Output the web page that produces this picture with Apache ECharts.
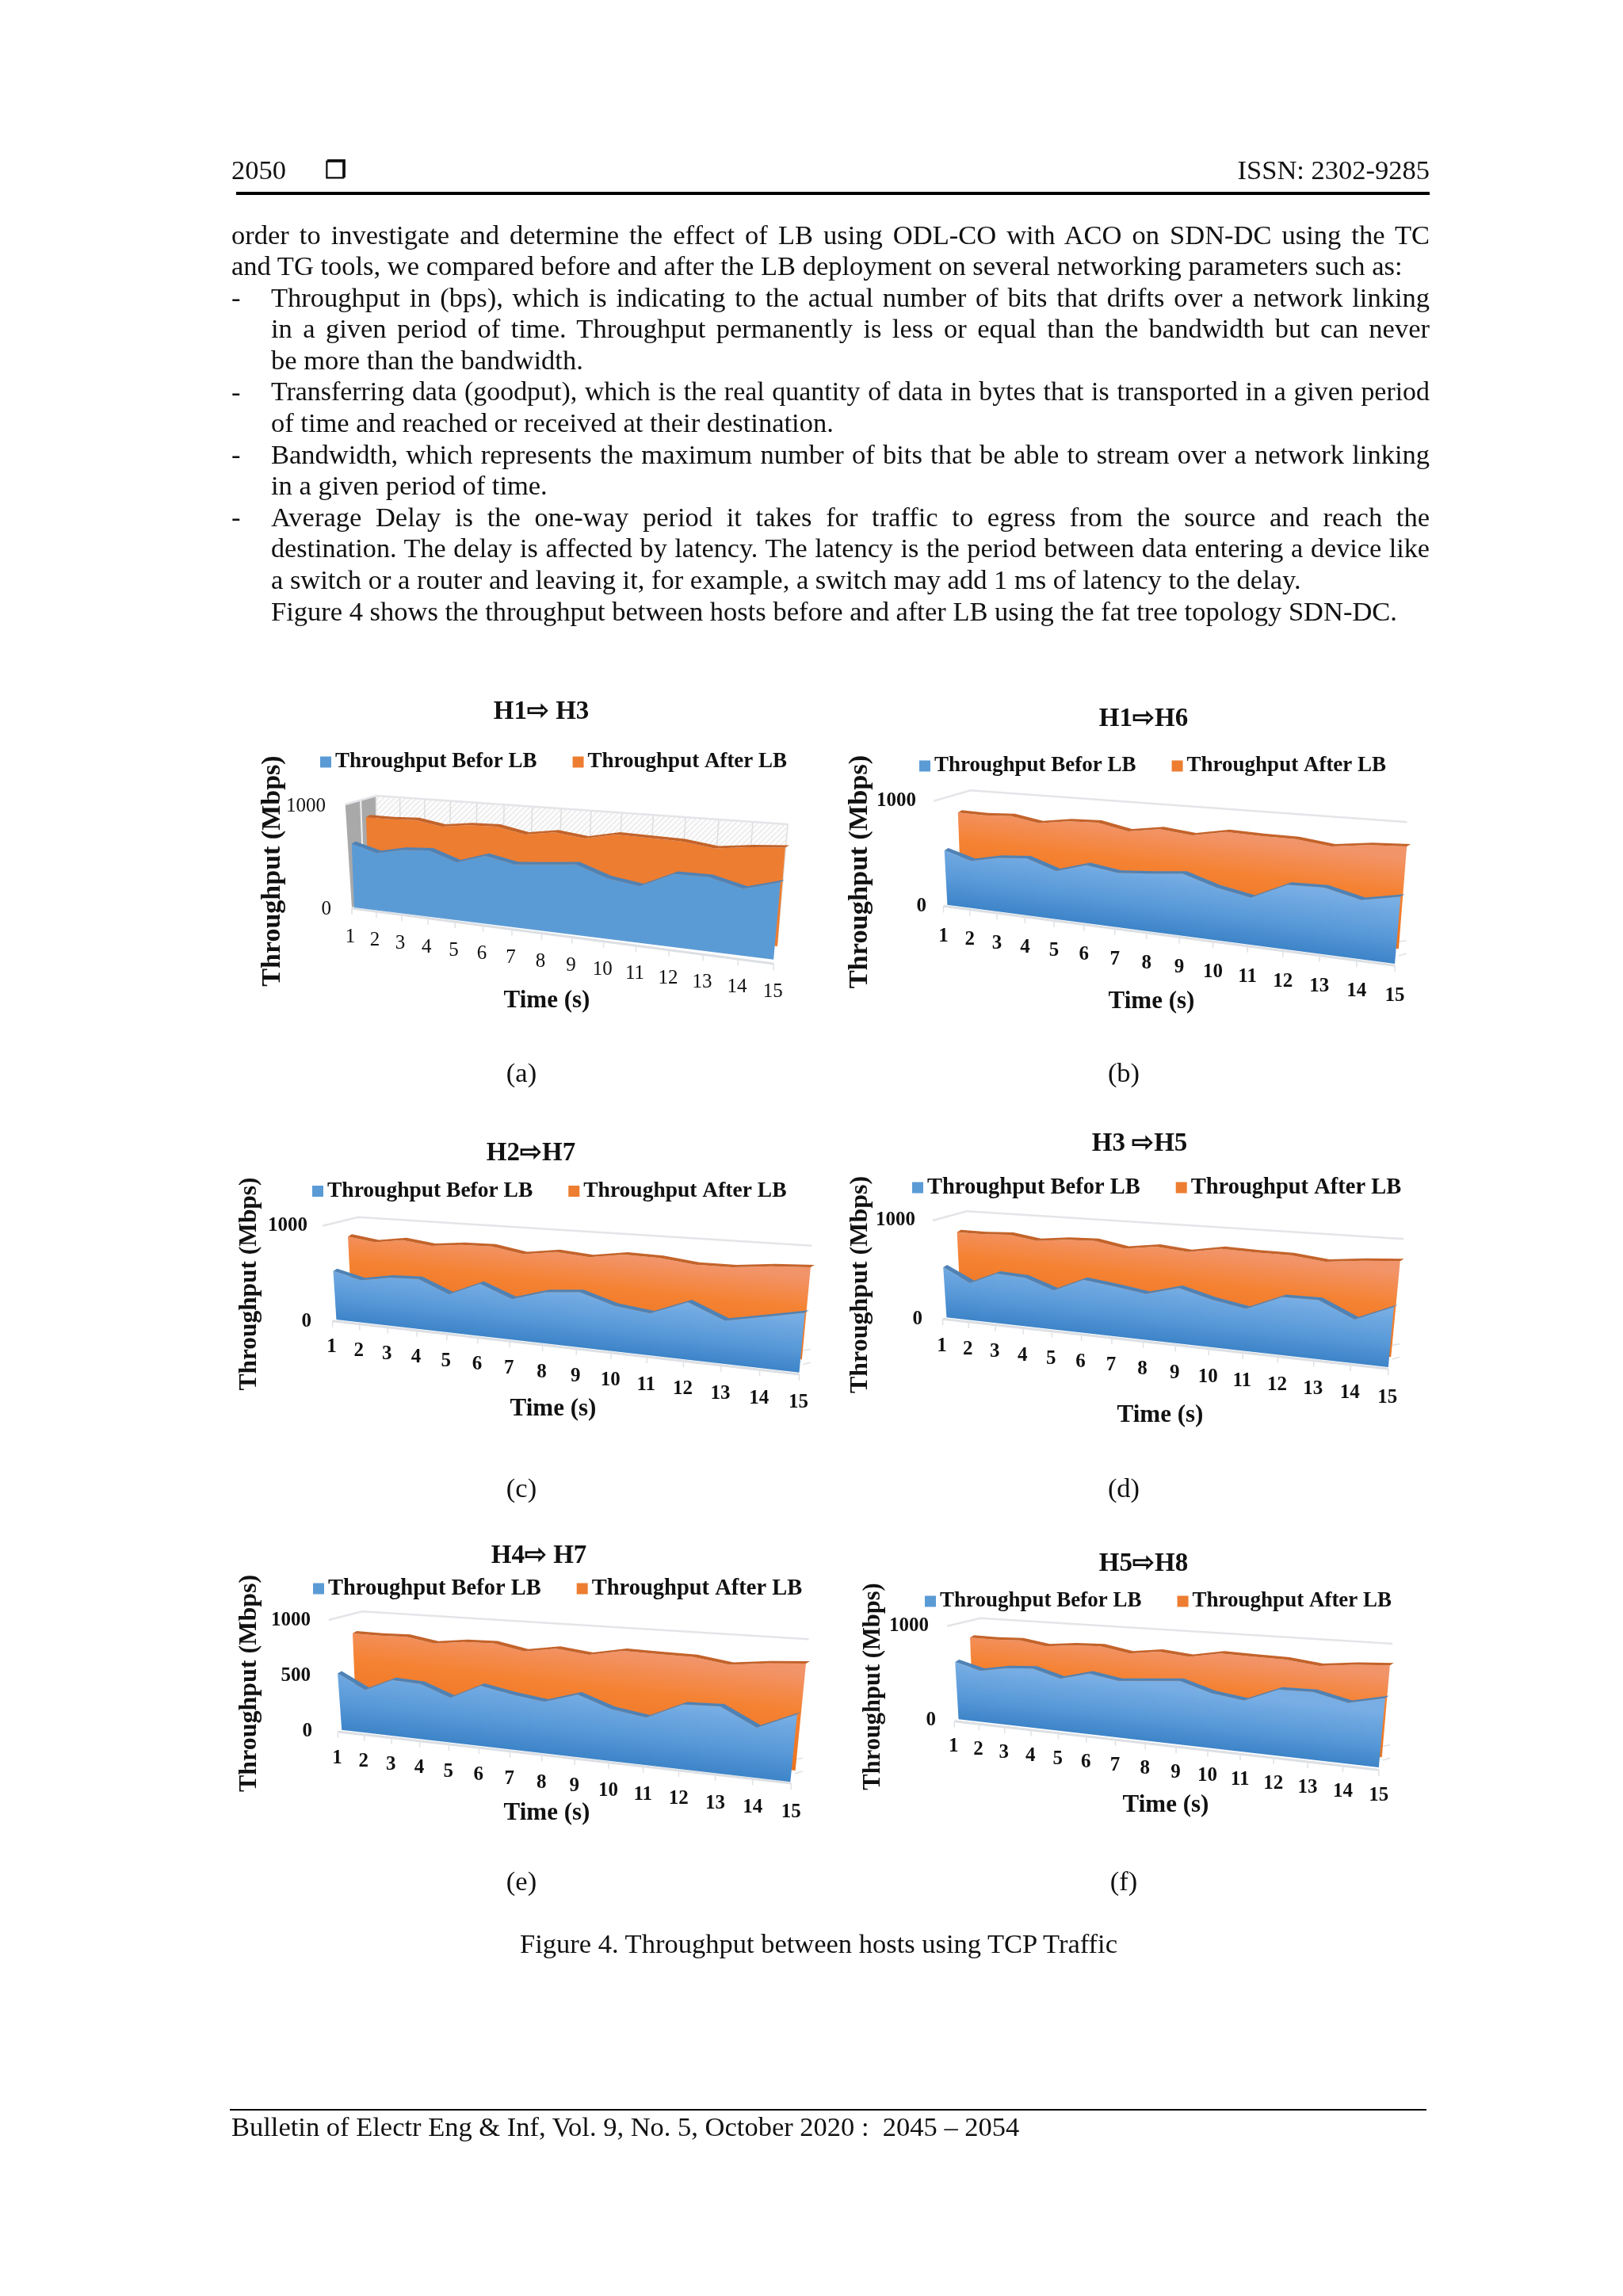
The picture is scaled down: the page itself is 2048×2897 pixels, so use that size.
<!DOCTYPE html>
<html><head><meta charset="utf-8">
<script src="https://cdn.jsdelivr.net/npm/echarts@6/dist/echarts.min.js"></script>
<style>
html,body{margin:0;padding:0;background:#fff}
#page{position:relative;width:2048px;height:2897px;overflow:hidden;font-family:"Liberation Serif",serif;color:#111}
#chart{position:absolute;left:0;top:0;width:2048px;height:2897px}
.l{position:absolute;font-size:34.5px;line-height:40px;height:40px;text-align:justify;text-align-last:justify}
.n{position:absolute;font-size:34.5px;line-height:40px;height:40px;white-space:nowrap}
.r{position:absolute;background:#000}
</style></head><body><div id="page"><div id="chart"></div></div>
<script>
const categories=['1','2','3','4','5','6','7','8','9','10','11','12','13','14','15'];
const seriesBefore='Throughput Befor LB', seriesAfter='Throughput After LB';
const yTicks1000=[0,1000], yTicks500=[0,500,1000];

const beforeA=[641,574,627,645,558,643,590,613,640,544,503,635,635,564,645];
const afterA =[821,822,834,792,825,833,782,824,791,849,842,837,799,833,853];
const beforeB=[547,473,531,553,465,549,508,531,561,473,419,559,568,497,557];
const afterB =[841,837,852,807,848,859,804,848,819,875,866,864,827,866,882];
const beforeC=[544,472,528,541,414,549,426,525,555,456,416,552,414,483,552];
const afterC =[828,791,836,799,833,841,788,835,808,860,853,816,818,854,873];
const beforeD=[545,409,528,513,413,543,505,461,544,463,407,543,544,403,541];
const afterD =[816,817,834,795,830,843,792,836,810,867,858,860,826,863,886];
const beforeE=[533,406,517,505,409,535,485,450,533,440,399,529,539,402,530];
const afterE =[804,804,813,775,810,819,772,817,789,845,842,842,803,840,862];
const beforeF=[637,567,618,636,558,635,587,612,638,545,505,634,639,566,638];
const afterF =[823,823,836,794,827,838,789,830,804,860,853,850,815,851,871];

/* Layout of each panel: o = crop origin; geometry is written in crop units (x/2.0632, y/3). */
const panels=[
 {o:[300,860],title:'H1\u21E8 H3',tc:[683,898],leg:[404,962],lf:27,time:[690,1263],yn:[344,1099],ynf:34,grid:[411,1017,130],nudge:7,ticks:yTicks1000,bold:false,flat:true,before:beforeA,after:afterA,
  bp:[[303,855],[1395,1052],[293,465],[1423,584]],ap:[[342,825],[1405,1002],[332,435],[1429,554]],
  top:[[280,465],[360,432],[1432,540]],floor:[[297,858],[1395,1068]],lab:[110,105],labx:[-4,-2]},
 {o:[1050,860],title:'H1\u21E8H6',tc:[1443,907],leg:[1160,967],lf:27,time:[1453,1264],yn:[1085,1100],ynf:34.4,grid:[1156,1011,132.7],nudge:13,ticks:yTicks1000,bold:true,before:beforeB,after:afterB,
  bp:[[300,845],[1465,1068],[286,452],[1492,596]],ap:[[336,815],[1475,1012],[326,425],[1499,562]],
  top:[[265,452],[360,412],[1497,532]],floor:[[290,850],[1465,1075]],lab:[115,115],labx:[0,0]},
 {o:[280,1420],title:'H2\u21E8H7',tc:[670,1455],leg:[394,1503],lf:27.5,time:[698,1778],yn:[315,1620],ynf:31.4,grid:[388,1547,121],nudge:5,ticks:yTicks1000,bold:true,before:beforeC,after:afterC,
  bp:[[298,735],[1503,935],[283,380],[1530,509]],ap:[[338,706],[1510,886],[326,351],[1536,476]],
  top:[[262,380],[355,347],[1535,455]],floor:[[288,740],[1503,942]],lab:[100,108],labx:[-2,-2]},
 {o:[1050,1420],title:'H3 \u21E8H5',tc:[1438,1443],leg:[1151,1498],lf:28.5,time:[1464,1786],yn:[1086,1621],ynf:32,grid:[1155,1540,125],nudge:9,ticks:yTicks1000,bold:true,before:beforeD,after:afterD,
  bp:[[298,727],[1448,915],[282,362],[1475,477]],ap:[[335,693],[1455,877],[323,328],[1482,457]],
  top:[[262,360],[350,325],[1488,430]],floor:[[288,733],[1448,922]],lab:[102,108],labx:[-2,-2]},
 {o:[280,1940],title:'H4\u21E8 H7',tc:[680,1963],leg:[395,2004],lf:28.5,time:[690,2288],yn:[315,2124],ynf:32,grid:[392,2045,140],nudge:2,ticks:yTicks500,bold:true,before:beforeE,after:afterE,
  bp:[[312,728],[1480,925],[292,310],[1513,425]],ap:[[350,690],[1493,882],[338,272],[1525,402]],
  top:[[278,312],[365,280],[1528,385]],floor:[[302,735],[1482,930]],lab:[100,110],labx:[-2,0]},
 {o:[1070,1950],title:'H5\u21E8H8',tc:[1443,1973],leg:[1167,2021],lf:27,time:[1471,2278],yn:[1102,2128],ynf:30.5,grid:[1172,2052,119],nudge:9,ticks:yTicks1000,bold:true,before:beforeF,after:afterF,
  bp:[[288,658],[1382,840],[274,303],[1408,414]],ap:[[326,632],[1390,802],[316,277],[1414,392]],
  top:[[258,305],[345,275],[1418,372]],floor:[[277,665],[1382,850]],lab:[97,98],labx:[-2,0]}
];

const FONT='"Liberation Serif", serif';
const Z=(p,c)=>[p.o[0]+c[0]/2.0632,p.o[1]+c[1]/3];
const warp=t=>0.8*t+0.2*t*t;
const mix=(a,b,f)=>[a[0]+(b[0]-a[0])*f,a[1]+(b[1]-a[1])*f];
function proj(p,plane,cs,pt){
  const t=(pt[0]-cs.x)/cs.width, f=(cs.y+cs.height-pt[1])/cs.height, w=warp(t);
  const low=mix(Z(p,plane[0]),Z(p,plane[1]),w), high=mix(Z(p,plane[2]),Z(p,plane[3]),w);
  return mix(low,high,f);
}
const hatch=document.createElement('canvas');hatch.width=hatch.height=7;
(function(){const g=hatch.getContext('2d');g.fillStyle='#fbfbfb';g.fillRect(0,0,7,7);g.strokeStyle='#dcdcdc';g.lineWidth=1;
 g.beginPath();g.moveTo(-1,8);g.lineTo(8,-1);g.moveTo(-1,1);g.lineTo(1,-1);g.moveTo(6,8);g.lineTo(8,6);g.stroke();})();

function areaRender(p,plane,values,colors){
  return function(params,api){
    if(params.dataIndex!==0) return;
    const cs=params.coordSys;
    const read=values.map((v,i)=>proj(p,plane,cs,api.coord([i,v])));
    const back=read.map(q=>[q[0]+5,q[1]]);
    const front=read.map(q=>[q[0],q[1]+3]);
    const lb=proj(p,plane,cs,api.coord([0,0])), rb=proj(p,plane,cs,api.coord([values.length-1,0]));
    let fill=colors.flat;
    if(!p.flat){
      /* shade runs at right angles to the slanted floor */
      const s=(rb[1]-lb[1])/(rb[0]-lb[0]), M=mix(lb,rb,.5), H=Math.abs(lb[1]-Z(p,plane[2])[1])*colors.reach;
      const k=H/(1+s*s);
      fill={type:'linear',global:true,x:M[0]+s*k,y:M[1]-k,x2:M[0],y2:M[1],colorStops:colors.stops};
    }
    return {type:'group',children:[
      {type:'polygon',shape:{points:[lb].concat(front,[rb])},style:{fill:fill}},
      {type:'polygon',shape:{points:front.concat(back.slice().reverse())},style:{fill:colors.strip}}
    ]};
  };
}
const blueColors={flat:'#5b9bd5',strip:'#4f82b5',reach:.6,stops:[{offset:0,color:'#78aee4'},{offset:.55,color:'#5a9ad9'},{offset:1,color:'#3d84c8'}]};
const orangeColors={flat:'#ed7d31',strip:'#c4632a',reach:.9,stops:[{offset:0,color:'#f2946a'},{offset:.4,color:'#f58232'},{offset:1,color:'#ea7420'}]};

function frameRender(p){
  const wl=Z(p,p.floor[0]), wr=Z(p,p.floor[1]);
  return function(params,api){
    const cs=params.coordSys, i=params.dataIndex;
    const pt=api.coord([i,0]);
    const w=warp((pt[0]-cs.x)/cs.width);
    const f=mix(wl,wr,w);
    const off=mix([p.labx[0],p.lab[0]],[p.labx[1],p.lab[1]],w);
    const kids=[
      {type:'line',shape:{x1:f[0],y1:f[1],x2:f[0],y2:f[1]+8},style:{stroke:'#dfe1e4',lineWidth:1.5}},
      {type:'text',x:f[0]+off[0]/2.0632,y:f[1]+off[1]/3,style:{text:categories[i],fill:'#111',fontFamily:FONT,fontSize:25,fontWeight:p.bold?'bold':'normal',align:'center',verticalAlign:'middle'}}
    ];
    if(i===0){
      const T=p.top.map(c=>Z(p,c));
      const head=[];
      if(p.flat){
        const base=[Z(p,[297,855]),Z(p,[362,820]),Z(p,[1405,990])];
        head.push({type:'polygon',shape:{points:[T[0],T[1],base[1],base[0]]},style:{fill:'#a9a9a9'}});
        head.push({type:'polygon',shape:{points:[T[1],T[2],Z(p,[1424,625]),base[2],base[1]]},style:{fill:{image:hatch,repeat:'repeat'}}});
        const m1=mix(T[0],T[1],.5), m2=mix(base[0],base[1],.5);
        head.push({type:'line',shape:{x1:m1[0],y1:m1[1],x2:m2[0],y2:m2[1]},style:{stroke:'#f2f2f2',lineWidth:2}});
        categories.forEach((c,k)=>{
          const wk=warp(k/14), a=mix(T[1],T[2],wk), b=mix(base[1],base[2],wk);
          head.push({type:'line',shape:{x1:a[0],y1:a[1],x2:b[0],y2:b[1]},style:{stroke:'#dedede',lineWidth:1.5}});
        });
      } else {
        [[[10,-90],[30,-95]],[[10,-37],[30,-45]]].forEach(d=>{
          head.push({type:'line',shape:{x1:wr[0]+d[0][0]/2.0632,y1:wr[1]+d[0][1]/3,x2:wr[0]+d[1][0]/2.0632,y2:wr[1]+d[1][1]/3},style:{stroke:'#dfe1e4',lineWidth:1.5}});
        });
      }
      head.push({type:'polyline',shape:{points:T},style:{stroke:'#e3e5e8',fill:null,lineWidth:2.5}});
      head.push({type:'line',shape:{x1:wl[0],y1:wl[1],x2:wr[0],y2:wr[1]},style:{stroke:'#dcdfe3',lineWidth:3}});
      kids.unshift.apply(kids,head);
    }
    return {type:'group',children:kids};
  };
}

const grids=[],xAxes=[],yAxes=[],titles=[],legends=[],series=[],graphics=[];
panels.forEach((p,k)=>{
  grids.push({left:p.grid[0]+p.nudge,top:p.grid[1],width:400,height:p.grid[2]});
  xAxes.push({type:'category',gridIndex:k,data:categories,boundaryGap:false,show:false});
  const labelFont={fontFamily:FONT,fontSize:25,fontWeight:p.bold?'bold':'normal',color:'#111'};
  yAxes.push({type:'value',gridIndex:k,min:0,max:1000,interval:p.ticks[1],axisLine:{show:false},axisTick:{show:false},splitLine:{show:false},
    axisLabel:Object.assign({margin:0,formatter:v=>v===0?String(v):'{p|'+v+'}',rich:{p:Object.assign({padding:[0,p.nudge,0,0]},labelFont)}},labelFont)});
  titles.push({text:p.title,left:p.tc[0],top:p.tc[1]-16,textAlign:'center',padding:0,textStyle:{fontFamily:FONT,fontSize:33,fontWeight:'bold',color:'#111'}});
  legends.push({data:[seriesBefore,seriesAfter],left:p.leg[0],top:p.leg[1]-14,padding:0,itemWidth:14,itemHeight:14,itemGap:45,icon:'rect',selectedMode:false,
    textStyle:{fontFamily:FONT,fontSize:p.lf,fontWeight:'bold',color:'#111'}});
  const mk=(name,color,arr,render)=>({type:'custom',name:name,xAxisIndex:k,yAxisIndex:k,coordinateSystem:'cartesian2d',silent:true,
    itemStyle:{color:color},encode:{x:0,y:1},data:arr.map((v,i)=>[i,v]),renderItem:render});
  series.push({type:'custom',name:'frame'+k,xAxisIndex:k,yAxisIndex:k,coordinateSystem:'cartesian2d',silent:true,z:1,encode:{x:0,y:1},
    data:categories.map((c,i)=>[i,0]),renderItem:frameRender(p)});
  series.push(Object.assign(mk(seriesAfter,'#ed7d31',p.after,areaRender(p,p.ap,p.after,orangeColors)),{z:2}));
  series.push(Object.assign(mk(seriesBefore,'#5b9bd5',p.before,areaRender(p,p.bp,p.before,blueColors)),{z:3}));
  graphics.push({type:'text',x:p.time[0],y:p.time[1],style:{text:'Time (s)',fontFamily:FONT,fontSize:31,fontWeight:'bold',fill:'#111',align:'center',verticalAlign:'middle'}});
  graphics.push({type:'text',x:p.yn[0],y:p.yn[1],rotation:Math.PI/2,style:{text:'Throughput (Mbps)',fontFamily:FONT,fontSize:p.ynf,fontWeight:'bold',fill:'#111',align:'center',verticalAlign:'middle'}});
});
const chart=echarts.init(document.getElementById('chart'),null,{width:2048,height:2897});
chart.setOption({animation:false,backgroundColor:'#fff',grid:grids,xAxis:xAxes,yAxis:yAxes,title:titles,legend:legends,series:series,graphic:graphics});

/* Page text around the figure */
const page=document.getElementById('page');
const L=292,R=1804,IND=342;
const add=(cls,txt,x,y,w)=>{const d=document.createElement('div');d.className=cls;d.textContent=txt;d.style.left=x+'px';d.style.top=y+'px';if(w)d.style.width=w+'px';page.appendChild(d);return d;};
const bodyLines=[
 ['l','order to investigate and determine the effect of LB using ODL-CO with ACO on SDN-DC using the TC',L],
 ['n','and TG tools, we compared before and after the LB deployment on several networking parameters such as:',L],
 ['l','Throughput in (bps), which is indicating to the actual number of bits that drifts over a network linking',IND,'-'],
 ['l','in a given period of time. Throughput permanently is less or equal than the bandwidth but can never',IND],
 ['n','be more than the bandwidth.',IND],
 ['l','Transferring data (goodput), which is the real quantity of data in bytes that is transported in a given period',IND,'-',33.9],
 ['n','of time and reached or received at their destination.',IND],
 ['l','Bandwidth, which represents the maximum number of bits that be able to stream over a network linking',IND,'-'],
 ['n','in a given period of time.',IND],
 ['l','Average Delay is the one-way period it takes for traffic to egress from the source and reach the',IND,'-'],
 ['l','destination. The delay is affected by latency. The latency is the period between data entering a device like',IND,null,34.2],
 ['n','a switch or a router and leaving it, for example, a switch may add 1 ms of latency to the delay.',IND],
 ['n','Figure 4 shows the throughput between hosts before and after LB using the fat tree topology SDN-DC.',IND]
];
bodyLines.forEach((b,i)=>{
  const y=275.5+39.6*i;
  const d=add(b[0],b[1],b[2],y,b[0]==='l'?R-b[2]:0);
  if(b[4]) d.style.fontSize=b[4]+'px';
  if(b[3]) add('n',b[3],L,y);
});
add('n','2050',292,194);
const sym=add('n','\u2750',410,195);sym.style.fontFamily='"DejaVu Sans"';sym.style.fontWeight='bold';sym.style.fontSize='30px';sym.style.webkitTextStroke='1px #111';
const issn=add('n','ISSN: 2302-9285',0,194);issn.style.left='auto';issn.style.right=(2048-R)+'px';
const rule=add('r','',298,242,R-298);rule.style.height='4px';
const caps=[['(a)',658,1353],['(b)',1418,1353],['(c)',658,1877],['(d)',1418,1877],['(e)',658,2373],['(f)',1418,2373],['Figure 4. Throughput between hosts using TCP Traffic',1033,2452]];
caps.forEach(c=>{const d=add('n',c[0],c[1],c[2]-20);d.style.transform='translateX(-50%)';});
const rule2=add('r','',290,2661,1510);rule2.style.height='2px';
add('n','Bulletin of Electr Eng & Inf, Vol. 9, No. 5, October 2020 :  2045 \u2013 2054',292,2663).style.whiteSpace='pre';
</script></body></html>
